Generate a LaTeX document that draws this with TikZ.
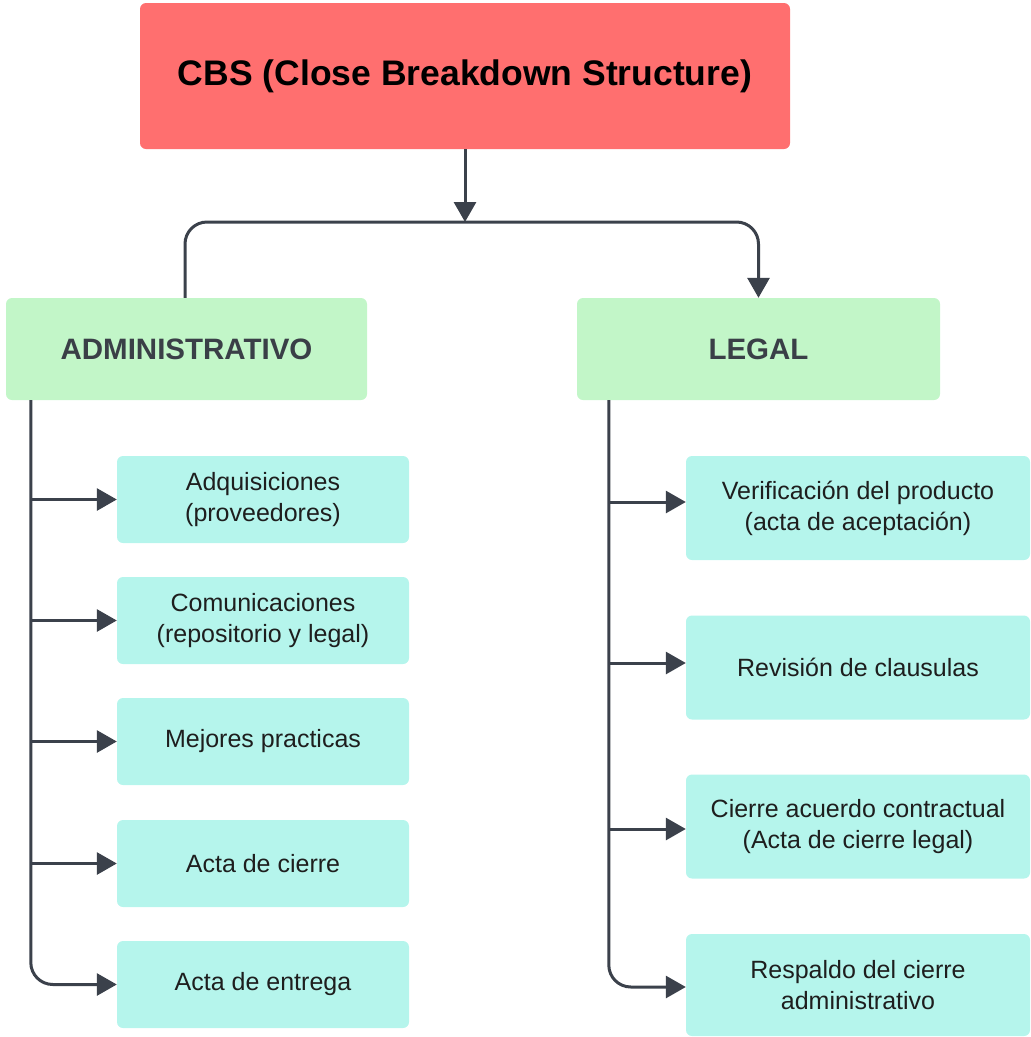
\documentclass[tikz,border=0pt]{standalone}
\usepackage{fontspec}
\setmainfont{Liberation Sans}
\usetikzlibrary{arrows.meta,calc}
\definecolor{cbsred}{HTML}{FF6F6F}
\definecolor{hdrgreen}{HTML}{C2F6C8}
\definecolor{leafcyan}{HTML}{B5F5EC}
\definecolor{linegray}{HTML}{3B414B}
\definecolor{hdrtext}{HTML}{3A3F47}
\definecolor{leaftext}{HTML}{1E1E1E}
\tikzset{
  box/.style={rectangle, rounded corners=6pt, draw=none, align=center, inner sep=0pt},
  cbsbox/.style={box, fill=cbsred, minimum width=650pt, minimum height=146pt,
    font=\fontsize{35.5}{40}\selectfont\bfseries, text=black},
  hdrbox/.style={box, fill=hdrgreen, minimum height=102pt,
    font=\fontsize{29.5}{34}\selectfont\bfseries, text=hdrtext},
  leafbox/.style={box, fill=leafcyan, font=\fontsize{25}{31}\selectfont, text=leaftext},
  conn/.style={draw=linegray, line width=3pt},
  arr/.style={conn, -{Triangle[length=20pt,width=22pt]}},
}
\begin{document}
\begin{tikzpicture}[x=1pt,y=-1pt]
\useasboundingbox (0,0) rectangle (1031,1037);
% top
\node[cbsbox] (cbs) at (465,76) {CBS (Close Breakdown Structure)};
\node[hdrbox, minimum width=361pt] (adm) at (186.5,349) {ADMINISTRATIVO};
\node[hdrbox, minimum width=363pt] (leg) at (758.5,349) {LEGAL};
% left leaves
\node[leafbox, minimum width=292pt, minimum height=87pt] (a1) at (263,499.5) {Adquisiciones\\(proveedores)};
\node[leafbox, minimum width=292pt, minimum height=87pt] (a2) at (263,620.5) {Comunicaciones\\(repositorio y legal)};
\node[leafbox, minimum width=292pt, minimum height=87pt] (a3) at (263,741.5) {Mejores practicas};
\node[leafbox, minimum width=292pt, minimum height=87pt] (a4) at (263,863.5) {Acta de cierre};
\node[leafbox, minimum width=292pt, minimum height=87pt] (a5) at (263,984.5) {Acta de entrega};
% right leaves
\node[leafbox, minimum width=344pt, minimum height=104pt] (l1) at (858,508) {Verificación del producto\\(acta de aceptación)};
\node[leafbox, minimum width=344pt, minimum height=104pt] (l2) at (858,667.5) {Revisión de clausulas};
\node[leafbox, minimum width=344pt, minimum height=104pt] (l3) at (858,826.5) {Cierre acuerdo contractual\\(Acta de cierre legal)};
\node[leafbox, minimum width=344pt, minimum height=102pt] (l4) at (858,985) {Respaldo del cierre\\administrativo};
% connectors top
\coordinate (j) at (465,222);
\draw[arr] (cbs.south) -- (j);
\draw[arr, rounded corners=22pt] ([xshift=-1.5pt]adm.north) |- (j) -| (leg.north);
% left trunk
\coordinate (tl) at ([xshift=25pt]adm.south west);
\draw[arr, rounded corners=22pt] (tl) |- (a5.west);
\foreach \n in {a1,a2,a3,a4} \draw[arr] (\n.west -| tl) -- (\n.west);
% right trunk
\coordinate (tr) at ([xshift=32pt]leg.south west);
\draw[arr, rounded corners=22pt] (tr) |- ([yshift=-2pt]l4.west);
\foreach \n/\s in {l1/6pt,l2/4.5pt,l3/-2.5pt} \draw[arr] ([yshift=\s]\n.west -| tr) -- ([yshift=\s]\n.west);
\end{tikzpicture}
\end{document}
